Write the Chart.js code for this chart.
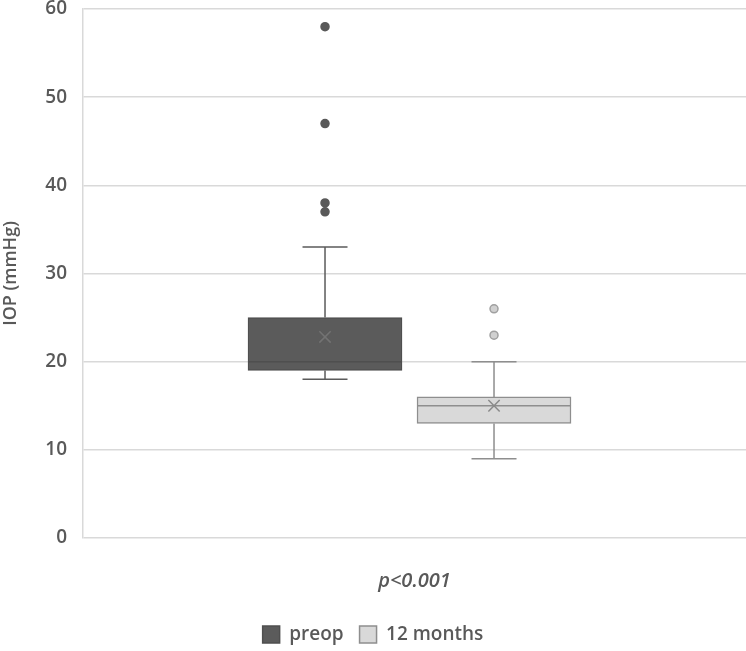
<!DOCTYPE html>
<html>
<head>
<meta charset="utf-8">
<script src="https://cdn.jsdelivr.net/npm/chart.js@4.4.1/dist/chart.umd.min.js"></script>
<style>
  html, body { margin: 0; padding: 0; background: #fff; }
  #wrap { width: 746px; height: 651px; }
</style>
</head>
<body>
<div id="wrap"><canvas id="c"></canvas></div>
<script>
'use strict';

// ── Data ──
const groups    = ['preop', '12 months'];
const groupPos  = [1, 2];            // position of each box on the x axis
const q1        = [19, 13];
const q3        = [25, 16];
const medians   = [20, 15];
const means     = [22.8, 15];
const whiskLo   = [18, 9];
const whiskHi   = [33, 20];
const outliers  = [[58, 47, 38, 37], [26, 23]];
const yTicks    = [0, 10, 20, 30, 40, 50, 60];

// ── Styles ──
const FONT = '"Open Sans", Lato, sans-serif';
const TEXT = '#595959';
const fills   = ['#5b5b5b', '#d9d9d9'];
const borders = ['#4f4f4f', '#8e8e8e'];
const whiskC  = ['#5b5b5b', '#8e8e8e'];
const meanC   = ['#737373', '#8a8a8a'];
const outFill = ['#595959', '#d0d0d0'];
const outLine = ['#595959', '#a0a0a0'];

const BOX_W = 154;
const CAP_W = 45;

// whiskers, median, mean and outliers drawn with the chart's scales
const boxPlugin = {
  id: 'boxparts',
  afterDatasetsDraw(chart) {
    const { ctx, scales: { x, y } } = chart;
    const { drawPoint } = Chart.helpers;
    ctx.save();
    groups.forEach((g, i) => {
      const cx = x.getPixelForValue(groupPos[i]);
      ctx.strokeStyle = whiskC[i];
      ctx.lineWidth = 1.5;
      ctx.beginPath();
      // upper whisker
      ctx.moveTo(cx, y.getPixelForValue(q3[i]));
      ctx.lineTo(cx, y.getPixelForValue(whiskHi[i]));
      ctx.moveTo(cx - CAP_W / 2, y.getPixelForValue(whiskHi[i]));
      ctx.lineTo(cx + CAP_W / 2, y.getPixelForValue(whiskHi[i]));
      // lower whisker
      ctx.moveTo(cx, y.getPixelForValue(q1[i]));
      ctx.lineTo(cx, y.getPixelForValue(whiskLo[i]));
      ctx.moveTo(cx - CAP_W / 2, y.getPixelForValue(whiskLo[i]));
      ctx.lineTo(cx + CAP_W / 2, y.getPixelForValue(whiskLo[i]));
      ctx.stroke();
      // median
      ctx.strokeStyle = borders[i];
      ctx.beginPath();
      ctx.moveTo(cx - BOX_W / 2, y.getPixelForValue(medians[i]));
      ctx.lineTo(cx + BOX_W / 2, y.getPixelForValue(medians[i]));
      ctx.stroke();
      // mean marker
      ctx.strokeStyle = meanC[i];
      ctx.lineWidth = 1.5;
      drawPoint(ctx, { pointStyle: 'crossRot', radius: 8, borderWidth: 1.5 },
        cx, y.getPixelForValue(means[i]));
      // outliers
      ctx.fillStyle = outFill[i];
      ctx.strokeStyle = outLine[i];
      outliers[i].forEach(v => {
        drawPoint(ctx, { pointStyle: 'circle', radius: 4, borderWidth: 1.5 },
          cx, y.getPixelForValue(v));
      });
    });
    ctx.restore();
  }
};

const boxSets = groups.map((g, i) => ({
  label: g,
  data: [{ x: groupPos[i], y: [q1[i], q3[i]] }],
  backgroundColor: fills[i],
  borderColor: borders[i],
  borderWidth: 1.5,
  borderSkipped: false,
  barThickness: BOX_W,
  grouped: false,
}));

new Chart(document.getElementById('c'), {
  type: 'bar',
  data: { datasets: boxSets },
  plugins: [boxPlugin],
  options: {
    responsive: true,
    maintainAspectRatio: false,
    animation: false,
    layout: { autoPadding: false, padding: { top: 9, right: 0, bottom: -3, left: 0 } },
    plugins: {
      tooltip: { enabled: false },
      legend: {
        position: 'bottom',
        labels: {
          boxWidth: 17,
          boxHeight: 17,
          padding: 16,
          color: TEXT,
          font: { family: FONT, size: 19, weight: '600' },
        },
      },
    },
    scales: {
      x: {
        type: 'linear',
        offset: false,
        min: -0.432,
        max: 3.491,
        grid: { display: false },
        border: { display: false },
        ticks: { display: false },
        title: {
          display: true,
          text: 'p<0.001',
          color: TEXT,
          font: { family: FONT, size: 20, style: 'italic', weight: '600' },
          padding: { top: 23, bottom: 16 },
        },
      },
      y: {
        min: 0,
        max: 60,
        afterBuildTicks: s => { s.ticks = yTicks.map(v => ({ value: v })); },
        afterFit: s => { s.width = 83; s.paddingTop = 0; s.paddingBottom = 0; },
        grid: { color: '#d9d9d9', lineWidth: 1.5, drawTicks: false },
        border: { color: '#d9d9d9', width: 1.5 },
        ticks: {
          color: TEXT,
          padding: 16,
          font: { family: FONT, size: 19, weight: '600' },
        },
        title: {
          display: true,
          text: 'IOP (mmHg)',
          color: TEXT,
          font: { family: FONT, size: 18, weight: '600' },
          padding: { top: 0, bottom: 4 },
        },
      },
    },
  },
});
</script>
</body>
</html>
